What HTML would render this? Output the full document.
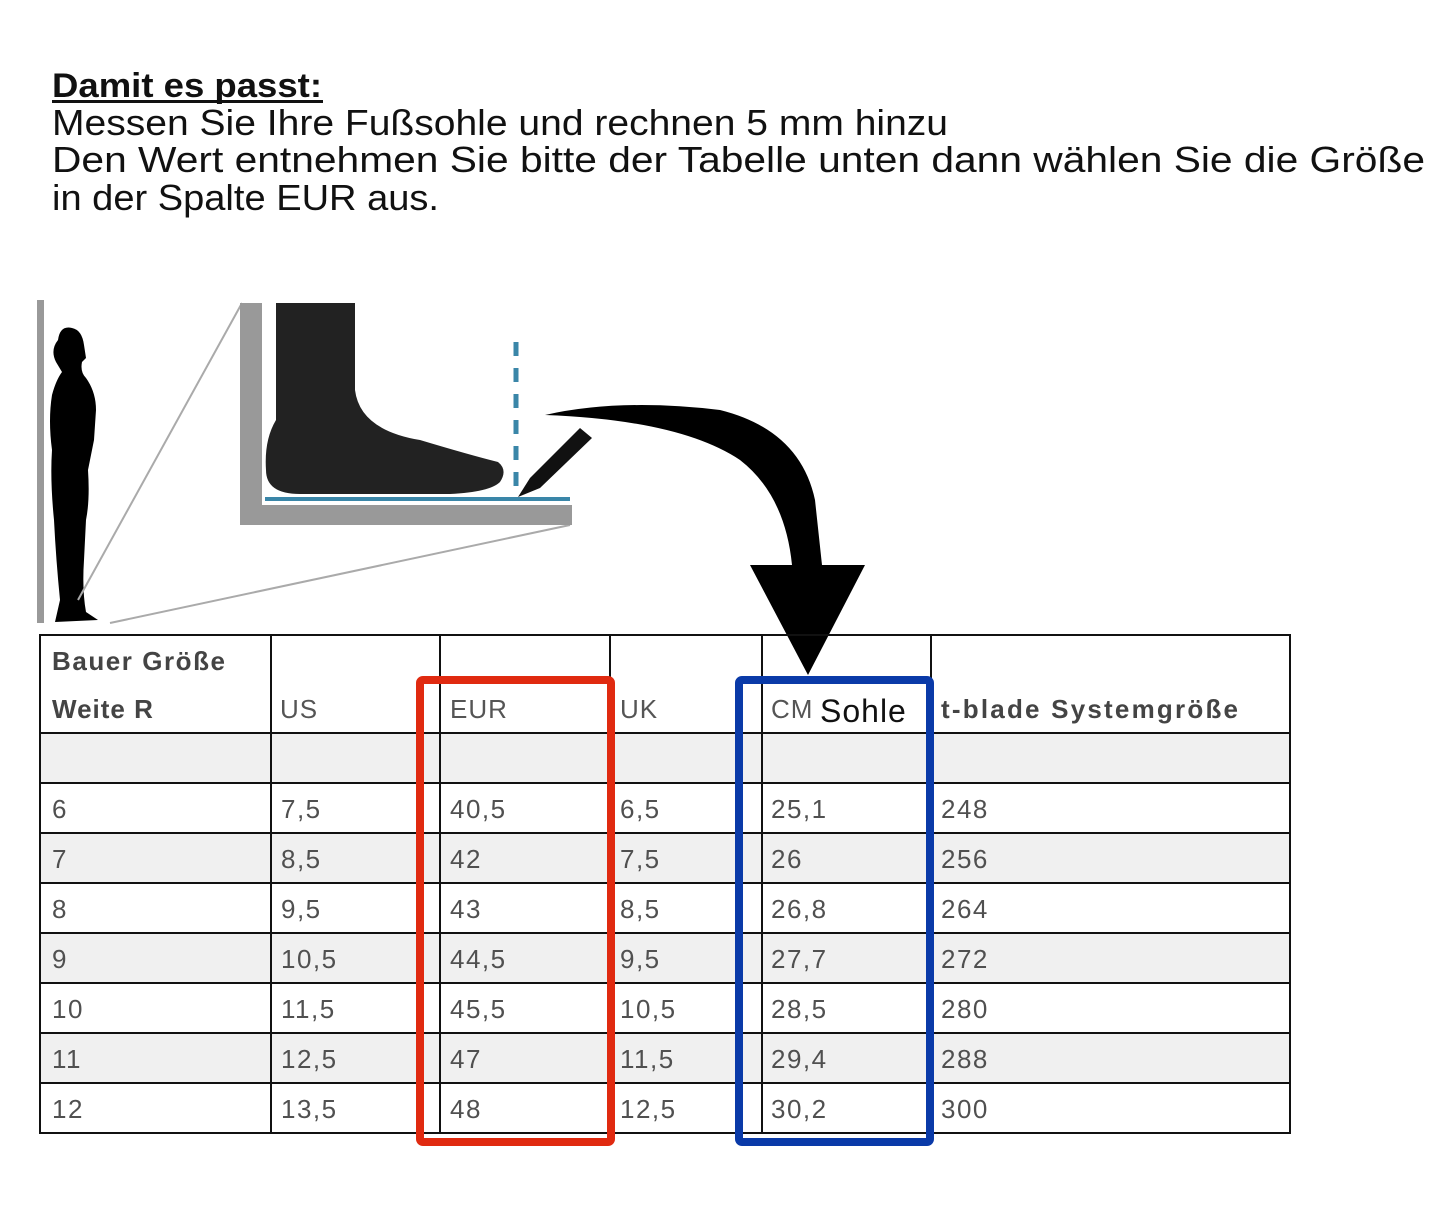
<!DOCTYPE html>
<html><head><meta charset="utf-8"><style>html,body{margin:0;padding:0;background:#fff}svg{display:block}</style></head><body>
<svg width="1445" height="1229" viewBox="0 0 1445 1229" xmlns="http://www.w3.org/2000/svg" font-family="Liberation Sans, sans-serif">
<rect width="1445" height="1229" fill="#fff"/>
<g fill="#111" font-size="36">
<text x="52" y="97" font-weight="bold" font-size="34" textLength="270" lengthAdjust="spacingAndGlyphs">Damit es passt:</text>
<rect x="52" y="100" width="271" height="3" fill="#111"/>
<text x="52" y="135" textLength="896" lengthAdjust="spacingAndGlyphs">Messen Sie Ihre Fußsohle und rechnen 5 mm hinzu</text>
<text x="52" y="172" textLength="1373" lengthAdjust="spacingAndGlyphs">Den Wert entnehmen Sie bitte der Tabelle unten dann wählen Sie die Größe</text>
<text x="52" y="210" textLength="387" lengthAdjust="spacingAndGlyphs">in der Spalte EUR aus.</text>
</g>
<rect x="37" y="300" width="7" height="323" fill="#999"/>
<path d="M58 340 Q60 325 72 328 Q82 330 84 345 L86 358 L82 362 Q80 372 86 378 Q96 392 96 410 L94 440 L88 470 Q90 500 86 520 L84 560 Q82 590 86 612 L98 620 L55 622 L60 600 Q56 560 54 520 Q50 480 52 450 Q48 420 52 395 Q56 380 62 372 L56 362 Q50 350 58 340Z" fill="#000"/>
<line x1="78" y1="600" x2="242" y2="303" stroke="#aaa" stroke-width="2"/>
<line x1="110" y1="623" x2="570" y2="525" stroke="#aaa" stroke-width="2"/>
<path d="M240 303 H262 V505 H572 V525 H240Z" fill="#999"/>
<path d="M276 303 H355 V390 Q360 430 420 440 Q470 455 498 462 Q508 470 500 482 Q490 492 450 494 L300 494 Q266 494 266 470 Q264 440 276 420Z" fill="#222"/>
<rect x="265" y="497" width="305" height="4" fill="#3a86a8"/>
<line x1="516" y1="342" x2="516" y2="490" stroke="#3a86a8" stroke-width="5" stroke-dasharray="14,12"/>
<path d="M518 497 L530 478 L580 428 L592 438 L540 488Z" fill="#111"/>
<path d="M545 415 Q620 398 720 410 Q800 430 815 500 L822 565 L865 565 L808 675 L750 565 L792 565 Q785 495 740 460 Q680 420 545 415Z" fill="#000"/>
<g fill="#f0f0f0">
<rect x="40" y="733" width="1250" height="50"/>
<rect x="40" y="833" width="1250" height="50"/>
<rect x="40" y="933" width="1250" height="50"/>
<rect x="40" y="1033" width="1250" height="50"/>
</g>
<g stroke="#111" stroke-width="2" fill="none">
<rect x="40" y="635" width="1250" height="498"/>
<path d="M271 635V1133M440 635V1133M610 635V1133M762 635V1133M931 635V1133"/>
<path d="M40 733H1290M40 783H1290M40 833H1290M40 883H1290M40 933H1290M40 983H1290M40 1033H1290M40 1083H1290"/>
</g>
<g fill="#444" font-size="26" letter-spacing="1">
<text x="52" y="670" font-weight="bold" textLength="174">Bauer Größe</text>
<text x="52" y="718" font-weight="bold">Weite R</text>
<text x="280" y="718" fill="#555">US</text>
<text x="450" y="718" fill="#555">EUR</text>
<text x="620" y="718" fill="#555">UK</text>
<text x="771" y="718" fill="#555">CM</text>
<text x="820" y="722" fill="#111" font-size="32">Sohle</text>
<text x="941" y="718" font-weight="bold" textLength="298">t-blade Systemgröße</text>
</g>
<g fill="#505050" font-size="26" letter-spacing="1.5">
<text y="818"><tspan x="52">6</tspan><tspan x="281">7,5</tspan><tspan x="450">40,5</tspan><tspan x="620">6,5</tspan><tspan x="771">25,1</tspan><tspan x="941">248</tspan></text>
<text y="868"><tspan x="52">7</tspan><tspan x="281">8,5</tspan><tspan x="450">42</tspan><tspan x="620">7,5</tspan><tspan x="771">26</tspan><tspan x="941">256</tspan></text>
<text y="918"><tspan x="52">8</tspan><tspan x="281">9,5</tspan><tspan x="450">43</tspan><tspan x="620">8,5</tspan><tspan x="771">26,8</tspan><tspan x="941">264</tspan></text>
<text y="968"><tspan x="52">9</tspan><tspan x="281">10,5</tspan><tspan x="450">44,5</tspan><tspan x="620">9,5</tspan><tspan x="771">27,7</tspan><tspan x="941">272</tspan></text>
<text y="1018"><tspan x="52">10</tspan><tspan x="281">11,5</tspan><tspan x="450">45,5</tspan><tspan x="620">10,5</tspan><tspan x="771">28,5</tspan><tspan x="941">280</tspan></text>
<text y="1068"><tspan x="52">11</tspan><tspan x="281">12,5</tspan><tspan x="450">47</tspan><tspan x="620">11,5</tspan><tspan x="771">29,4</tspan><tspan x="941">288</tspan></text>
<text y="1118"><tspan x="52">12</tspan><tspan x="281">13,5</tspan><tspan x="450">48</tspan><tspan x="620">12,5</tspan><tspan x="771">30,2</tspan><tspan x="941">300</tspan></text>
</g>
<rect x="420" y="680" width="191" height="462" rx="3" fill="none" stroke="#e02a10" stroke-width="8"/>
<rect x="739" y="680" width="191" height="462" rx="3" fill="none" stroke="#0a3aa8" stroke-width="8"/>
</svg>
</body></html>
